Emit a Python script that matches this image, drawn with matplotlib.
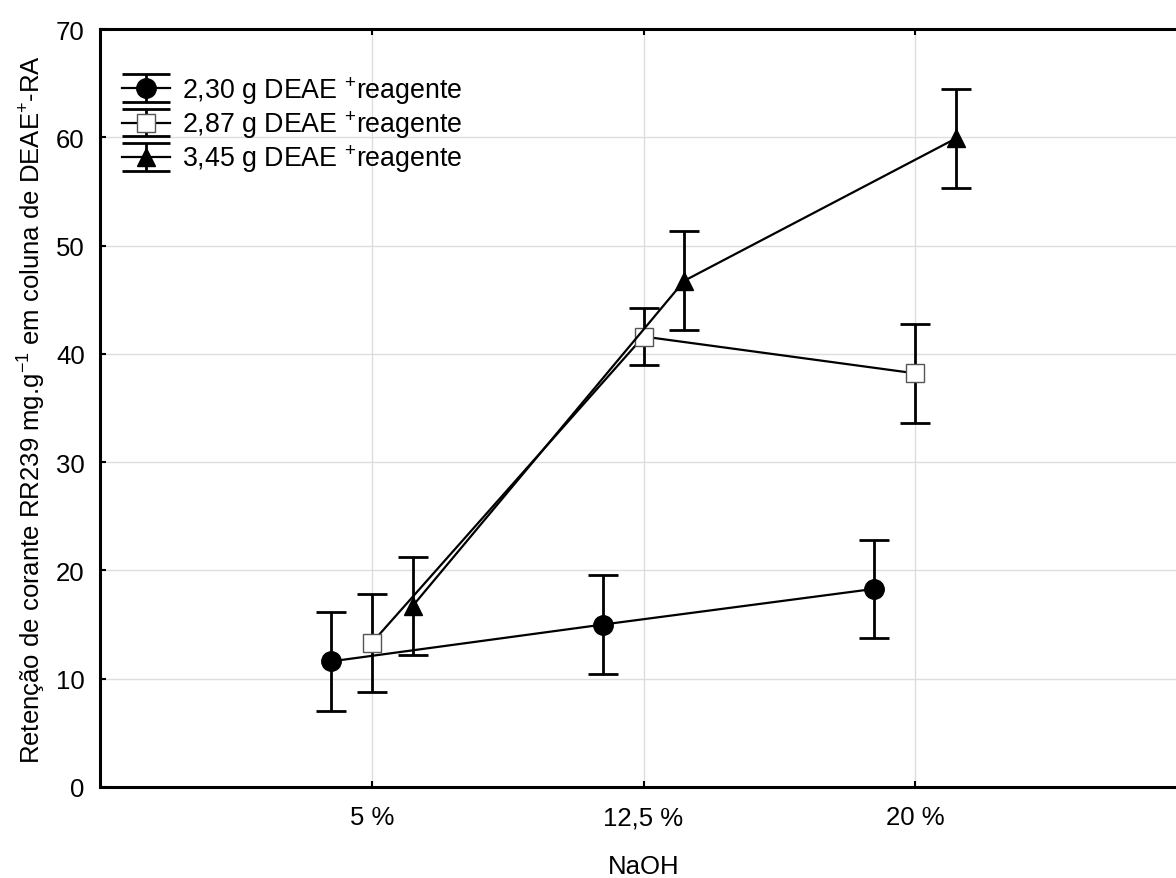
import numpy as np
import matplotlib
matplotlib.use("Agg")
import matplotlib.pyplot as plt
from matplotlib.lines import Line2D
from matplotlib.legend_handler import HandlerErrorbar
from matplotlib.container import ErrorbarContainer

plt.rcParams['font.family'] = ['Liberation Sans', 'DejaVu Sans']
plt.rcParams['mathtext.fontset'] = 'custom'
plt.rcParams['mathtext.rm'] = 'Liberation Sans'
plt.rcParams['mathtext.it'] = 'Liberation Sans:italic'

# data
categories = ['5 %', '12,5 %', '20 %']
labels = ['2,30 g DEAE $^{+}$reagente',
          '2,87 g DEAE $^{+}$reagente',
          '3,45 g DEAE $^{+}$reagente']
means_230 = [11.6, 15.0, 18.3]
means_287 = [13.3, 41.6, 38.2]
means_345 = [16.7, 46.75, 59.9]
err_230 = [4.55, 4.55, 4.55]
err_287 = [4.55, 2.65, 4.55]
err_345 = [4.55, 4.55, 4.55]

FS = 18.5

fig = plt.figure(figsize=(11.76, 8.79), dpi=100)
ax = fig.add_axes([100 / 1176, 1 - 788 / 879, 1087 / 1176, 758 / 879])

x = np.arange(len(categories))
offsets = [-0.15, 0.0, 0.15]
markers = ['o', 's', '^']
msizes = [14, 13, 13]
faces = ['black', 'white', 'black']
edges = ['black', '#555555', 'black']
edge_w = [1.0, 1.0, 1.0]

series = [(means_230, err_230), (means_287, err_287), (means_345, err_345)]
handles = []
for i, ((m, e), off, lab) in enumerate(zip(series, offsets, labels)):
    h = ax.errorbar(x + off, m, yerr=e, color='black', ecolor='black', lw=1.6,
                    elinewidth=2.0, capsize=10.5, capthick=2.0,
                    marker=markers[i], ms=msizes[i], mfc=faces[i],
                    label=lab, zorder=3)
    h.lines[0].set_markeredgecolor(edges[i])
    h.lines[0].set_markeredgewidth(edge_w[i])
    handles.append(h)

ax.set_xlim(-1, 3)
ax.set_ylim(0, 70)
ax.set_xticks(x)
ax.set_xticklabels(categories)
ax.set_yticks(np.arange(0, 71, 10))

ax.grid(True, color='#dddddd', lw=1.0, zorder=0)
ax.set_axisbelow(True)
for s in ax.spines.values():
    s.set_linewidth(2.2)
ax.tick_params(direction='in', length=4, width=1.5, top=True, right=True,
               labelsize=FS)
ax.tick_params(axis='x', pad=13)
ax.tick_params(axis='y', pad=11)

ax.set_xlabel('NaOH', fontsize=FS, labelpad=18)
ax.set_ylabel('Retenção de corante RR239 mg.g$^{-1}$ em coluna de DEAE$^{+}$-RA',
              fontsize=FS, labelpad=6)

LFS = 19.3
leg = ax.legend(handles=handles, loc='upper left', bbox_to_anchor=(0.0105, 0.955),
                frameon=False, fontsize=LFS, handlelength=1.79, handletextpad=0.45,
                labelspacing=0.1, borderaxespad=0,
                handler_map={ErrorbarContainer: HandlerErrorbar(yerr_size=0.52)})
for ln in leg.findobj(Line2D):
    if ln.get_marker() == '_':
        ln.set_markersize(34)

fig.savefig('out.png', dpi=100)
